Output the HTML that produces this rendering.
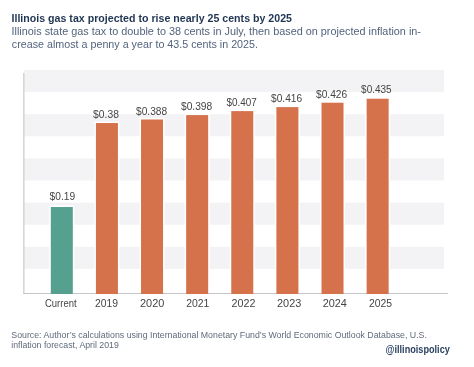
<!DOCTYPE html>
<html><head><meta charset="utf-8"><style>
html,body{margin:0;padding:0;background:#fff;width:474px;height:367px;overflow:hidden}
svg{display:block;will-change:transform}
text{font-family:"Liberation Sans",sans-serif}
.t{font-weight:bold;font-size:11.2px;fill:#1f3452}
.s{font-size:11.4px;fill:#52637c}
.lab{font-size:10.2px;fill:#444444}
.src{font-size:9.3px;fill:#5f6a7a}
.h{font-size:10.2px;font-weight:bold;fill:#2c4262}
</style></head><body>
<svg width="474" height="367" viewBox="0 0 474 367">
<rect width="474" height="367" fill="#fff"/>
<text x="11.5" y="22" class="t" textLength="280.5" lengthAdjust="spacingAndGlyphs">Illinois gas tax projected to rise nearly 25 cents by 2025</text>
<text x="11.5" y="34.8" class="s" textLength="409.5" lengthAdjust="spacingAndGlyphs">Illinois state gas tax to double to 38 cents in July, then based on projected inflation in-</text>
<text x="11.8" y="47.5" class="s" textLength="246.2" lengthAdjust="spacingAndGlyphs">crease almost a penny a year to 43.5 cents in 2025.</text>
<rect x="23.8" y="70.00" width="420.2" height="22.1" fill="#f3f3f5"/><rect x="23.8" y="114.20" width="420.2" height="22.1" fill="#f3f3f5"/><rect x="23.8" y="158.40" width="420.2" height="22.1" fill="#f3f3f5"/><rect x="23.8" y="202.60" width="420.2" height="22.1" fill="#f3f3f5"/><rect x="23.8" y="246.80" width="420.2" height="22.1" fill="#f3f3f5"/>
<rect x="23" y="73" width="1.6" height="220" fill="#d6d6d6"/>
<rect x="23" y="293" width="425" height="1" fill="#c4c6c8"/>
<rect x="49.30" y="205.52" width="25.00" height="87.48" fill="#fff"/><rect x="50.80" y="207.02" width="22" height="86.98" fill="#56a08f"/><rect x="94.42" y="121.54" width="25.00" height="171.46" fill="#fff"/><rect x="95.92" y="123.04" width="22" height="170.96" fill="#d5714b"/><rect x="139.54" y="118.00" width="25.00" height="175.00" fill="#fff"/><rect x="141.04" y="119.50" width="22" height="174.50" fill="#d5714b"/><rect x="184.66" y="113.58" width="25.00" height="179.42" fill="#fff"/><rect x="186.16" y="115.08" width="22" height="178.92" fill="#d5714b"/><rect x="229.78" y="109.61" width="25.00" height="183.39" fill="#fff"/><rect x="231.28" y="111.11" width="22" height="182.89" fill="#d5714b"/><rect x="274.90" y="105.63" width="25.00" height="187.37" fill="#fff"/><rect x="276.40" y="107.13" width="22" height="186.87" fill="#d5714b"/><rect x="320.02" y="101.21" width="25.00" height="191.79" fill="#fff"/><rect x="321.52" y="102.71" width="22" height="191.29" fill="#d5714b"/><rect x="365.14" y="97.23" width="25.00" height="195.77" fill="#fff"/><rect x="366.64" y="98.73" width="22" height="195.27" fill="#d5714b"/>
<text x="49.60" y="200.00" class="lab" textLength="25.6" lengthAdjust="spacingAndGlyphs">$0.19</text><text x="45.00" y="306.9" class="lab" textLength="31.6" lengthAdjust="spacingAndGlyphs">Current</text><text x="93.10" y="117.70" class="lab" textLength="25.8" lengthAdjust="spacingAndGlyphs">$0.38</text><text x="94.97" y="306.9" class="lab" textLength="23.0" lengthAdjust="spacingAndGlyphs">2019</text><text x="136.05" y="114.60" class="lab" textLength="31.1" lengthAdjust="spacingAndGlyphs">$0.388</text><text x="139.99" y="306.9" class="lab" textLength="24.3" lengthAdjust="spacingAndGlyphs">2020</text><text x="180.95" y="109.60" class="lab" textLength="31.3" lengthAdjust="spacingAndGlyphs">$0.398</text><text x="186.21" y="306.9" class="lab" textLength="23.2" lengthAdjust="spacingAndGlyphs">2021</text><text x="226.60" y="105.70" class="lab" textLength="30.2" lengthAdjust="spacingAndGlyphs">$0.407</text><text x="231.53" y="306.9" class="lab" textLength="23.9" lengthAdjust="spacingAndGlyphs">2022</text><text x="271.05" y="101.70" class="lab" textLength="31.1" lengthAdjust="spacingAndGlyphs">$0.416</text><text x="277.00" y="306.9" class="lab" textLength="24.3" lengthAdjust="spacingAndGlyphs">2023</text><text x="315.95" y="97.70" class="lab" textLength="31.3" lengthAdjust="spacingAndGlyphs">$0.426</text><text x="322.72" y="306.9" class="lab" textLength="24.2" lengthAdjust="spacingAndGlyphs">2024</text><text x="361.10" y="93.00" class="lab" textLength="30.6" lengthAdjust="spacingAndGlyphs">$0.435</text><text x="368.94" y="306.9" class="lab" textLength="23.1" lengthAdjust="spacingAndGlyphs">2025</text>
<text x="11.3" y="337.7" class="src" textLength="415.6" lengthAdjust="spacingAndGlyphs">Source: Author’s calculations using International Monetary Fund’s World Economic Outlook Database, U.S.</text>
<text x="11.3" y="347.5" class="src" textLength="107.5" lengthAdjust="spacingAndGlyphs">inflation forecast, April 2019</text>
<text x="385.6" y="352.9" class="h" textLength="64.2" lengthAdjust="spacingAndGlyphs">@illinoispolicy</text>
</svg>
</body></html>
